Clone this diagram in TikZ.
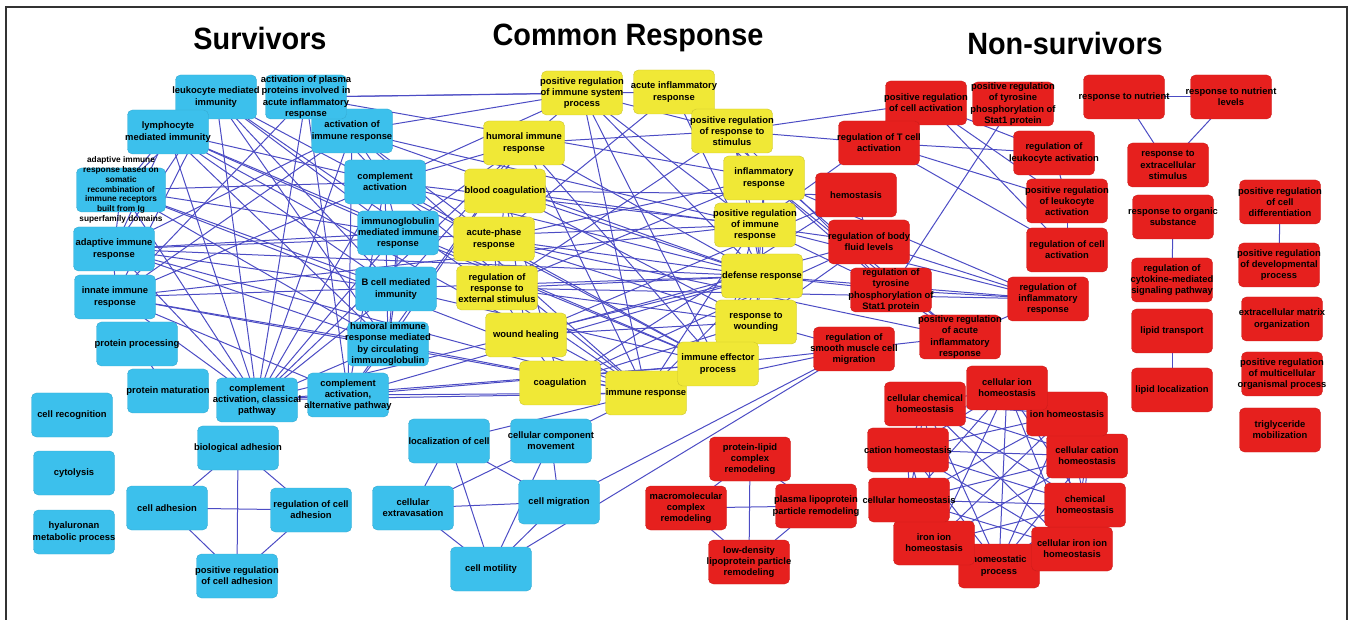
\documentclass[tikz,border=0pt]{standalone}
\usepackage{fontspec}
\setmainfont{Liberation Sans}
\usetikzlibrary{backgrounds}
\definecolor{bfill}{RGB}{60,192,236}
\definecolor{yfill}{RGB}{240,232,54}
\definecolor{rfill}{RGB}{230,32,30}
\definecolor{edgec}{RGB}{76,76,196}
\newcommand\mk[1]{\makebox[0pt][c]{#1}}
\tikzset{
  box/.style={rectangle, rounded corners=5pt, minimum width=81pt, minimum height=44pt,
    inner sep=0pt, align=center, font=\fontsize{9.4}{11.2}\selectfont\bfseries, text=black, line width=0.4pt},
  bnode/.style={box, fill=bfill, draw=bfill!88!black},
  ynode/.style={box, fill=yfill, draw=yfill!85!black},
  rnode/.style={box, fill=rfill, draw=rfill!88!black},
  edge/.style={draw=edgec, line width=1pt},
  ttl/.style={font=\fontsize{28}{30}\selectfont\bfseries, inner sep=0pt},
  frame/.style={draw=black!80, line width=1.5pt},
}
\begin{document}
\begin{tikzpicture}[x=1pt,y=-1pt]
\useasboundingbox (0,0) rectangle (1353,620);
\draw[frame] (6,620) -- (6,7) -- (1347,7) -- (1347,620);

% titles
\node[ttl] (tS) at (260,38) {\scalebox{1.03}[1.1]{Survivors}};
\node[ttl] (tC) at (628,38) {\scalebox{1.03}[1.1]{Common Response}};
\node[ttl] (tN) at (1065,43) {\scalebox{1.03}[1.1]{Non-survivors}};

% ---------------- Survivors (blue)
\node[bnode] (leuk) at (216,97) {\mk{leukocyte mediated}\\\mk{immunity}};
\node[bnode] (actimm) at (352,131) {\mk{activation of}\\\mk{immune response}};
\node[bnode] (plasma) at (306,97) {\mk{activation of plasma}\\\mk{proteins involved in}\\\mk{acute inflammatory}\\\mk{response}};
\node[bnode] (lymph) at (168,132) {\mk{lymphocyte}\\\mk{mediated immunity}};
\node[bnode, minimum width=89pt, label={[name=adapsomT, align=center, font=\fontsize{8.3}{9.8}\selectfont\bfseries, inner sep=0pt]center:{\mk{adaptive immune}\\\mk{response based on}\\\mk{somatic}\\\mk{recombination of}\\\mk{immune receptors}\\\mk{built from Ig}\\\mk{superfamily domains}}}] (adapsom) at (121,190) {};
\node[bnode] (compact) at (385,182) {\mk{complement}\\\mk{activation}};
\node[bnode] (igmed) at (398,233) {\mk{immunoglobulin}\\\mk{mediated immune}\\\mk{response}};
\node[bnode] (adap) at (114,249) {\mk{adaptive immune}\\\mk{response}};
\node[bnode] (innate) at (115,297) {\mk{innate immune}\\\mk{response}};
\node[bnode] (bcell) at (396,289) {\mk{B cell mediated}\\\mk{immunity}};
\node[bnode] (prot) at (137,344) {\mk{protein processing}};
\node[bnode] (humcirc) at (388,344) {\mk{humoral immune}\\\mk{response mediated}\\\mk{by circulating}\\\mk{immunoglobulin}};
\node[bnode] (protmat) at (168,391) {\mk{protein maturation}};
\node[bnode] (compclass) at (257,400) {\mk{complement}\\\mk{activation, classical}\\\mk{pathway}};
\node[bnode] (compalt) at (348,395) {\mk{complement}\\\mk{activation,}\\\mk{alternative pathway}};
\node[bnode] (cellrec) at (72,415) {\mk{cell recognition}};
\node[bnode] (cytol) at (74,473) {\mk{cytolysis}};
\node[bnode] (hyal) at (74,532) {\mk{hyaluronan}\\\mk{metabolic process}};
\node[bnode] (bioadh) at (238,448) {\mk{biological adhesion}};
\node[bnode] (celladh) at (167,508) {\mk{cell adhesion}};
\node[bnode] (regadh) at (311,510) {\mk{regulation of cell}\\\mk{adhesion}};
\node[bnode] (posadh) at (237,576) {\mk{positive regulation}\\\mk{of cell adhesion}};
\node[bnode] (loc) at (449,441) {\mk{localization of cell}};
\node[bnode] (ccm) at (551,441) {\mk{cellular component}\\\mk{movement}};
\node[bnode] (ext) at (413,508) {\mk{cellular}\\\mk{extravasation}};
\node[bnode] (mig) at (559,502) {\mk{cell migration}};
\node[bnode] (mot) at (491,569) {\mk{cell motility}};

% ---------------- Common (yellow)
\node[ynode] (y1) at (582,93) {\mk{positive regulation}\\\mk{of immune system}\\\mk{process}};
\node[ynode] (y2) at (674,92) {\mk{acute inflammatory}\\\mk{response}};
\node[ynode] (y3) at (524,143) {\mk{humoral immune}\\\mk{response}};
\node[ynode] (y4) at (732,131) {\mk{positive regulation}\\\mk{of response to}\\\mk{stimulus}};
\node[ynode] (y5) at (505,191) {\mk{blood coagulation}};
\node[ynode] (y6) at (764,178) {\mk{inflammatory}\\\mk{response}};
\node[ynode] (y7) at (494,239) {\mk{acute-phase}\\\mk{response}};
\node[ynode] (y8) at (755,225) {\mk{positive regulation}\\\mk{of immune}\\\mk{response}};
\node[ynode] (y9) at (497,288) {\mk{regulation of}\\\mk{response to}\\\mk{external stimulus}};
\node[ynode] (y10) at (762,276) {\mk{defense response}};
\node[ynode] (y11) at (526,335) {\mk{wound healing}};
\node[ynode] (y12) at (756,322) {\mk{response to}\\\mk{wounding}};
\node[ynode] (y13) at (560,383) {\mk{coagulation}};
\node[ynode] (y15) at (646,393) {\mk{immune response}};
\node[ynode] (y14) at (718,364) {\mk{immune effector}\\\mk{process}};

% ---------------- Non-survivors (red)
\node[rnode] (r1) at (926,103) {\mk{positive regulation}\\\mk{of cell activation}};
\node[rnode] (r2) at (1013,104) {\mk{positive regulation}\\\mk{of tyrosine}\\\mk{phosphorylation of}\\\mk{Stat1 protein}};
\node[rnode] (r3) at (879,143) {\mk{regulation of T cell}\\\mk{activation}};
\node[rnode] (r4) at (1054,153) {\mk{regulation of}\\\mk{leukocyte activation}};
\node[rnode] (r5) at (856,195) {\mk{hemostasis}};
\node[rnode] (r6) at (1067,201) {\mk{positive regulation}\\\mk{of leukocyte}\\\mk{activation}};
\node[rnode] (r7) at (869,242) {\mk{regulation of body}\\\mk{fluid levels}};
\node[rnode] (r8) at (1067,250) {\mk{regulation of cell}\\\mk{activation}};
\node[rnode] (r9) at (891,290) {\mk{regulation of}\\\mk{tyrosine}\\\mk{phosphorylation of}\\\mk{Stat1 protein}};
\node[rnode] (r10) at (1048,299) {\mk{regulation of}\\\mk{inflammatory}\\\mk{response}};
\node[rnode] (r11) at (960,337) {\mk{positive regulation}\\\mk{of acute}\\\mk{inflammatory}\\\mk{response}};
\node[rnode] (r12) at (854,349) {\mk{regulation of}\\\mk{smooth muscle cell}\\\mk{migration}};
\node[rnode] (r22) at (999,566) {\mk{homeostatic}\\\mk{process}};
\node[rnode] (r21) at (1072,549) {\mk{cellular iron ion}\\\mk{homeostasis}};
\node[rnode] (r20) at (934,543) {\mk{iron ion}\\\mk{homeostasis}};
\node[rnode] (r19) at (1085,505) {\mk{chemical}\\\mk{homeostasis}};
\node[rnode] (r18) at (909,500) {\mk{cellular homeostasis}};
\node[rnode] (r16) at (908,450) {\mk{cation homeostasis}};
\node[rnode] (r17) at (1087,456) {\mk{cellular cation}\\\mk{homeostasis}};
\node[rnode] (r15) at (1067,414) {\mk{ion homeostasis}};
\node[rnode] (r14) at (925,404) {\mk{cellular chemical}\\\mk{homeostasis}};
\node[rnode] (r13) at (1007,388) {\mk{cellular ion}\\\mk{homeostasis}};
\node[rnode] (r23) at (1124,97) {\mk{response to nutrient}};
\node[rnode] (r24) at (1231,97) {\mk{response to nutrient}\\\mk{levels}};
\node[rnode] (r25) at (1168,165) {\mk{response to}\\\mk{extracellular}\\\mk{stimulus}};
\node[rnode] (r26) at (1173,217) {\mk{response to organic}\\\mk{substance}};
\node[rnode] (r27) at (1280,202) {\mk{positive regulation}\\\mk{of cell}\\\mk{differentiation}};
\node[rnode] (r28) at (1172,280) {\mk{regulation of}\\\mk{cytokine-mediated}\\\mk{signaling pathway}};
\node[rnode] (r29) at (1279,265) {\mk{positive regulation}\\\mk{of developmental}\\\mk{process}};
\node[rnode] (r30) at (1172,331) {\mk{lipid transport}};
\node[rnode] (r31) at (1282,319) {\mk{extracellular matrix}\\\mk{organization}};
\node[rnode] (r32) at (1172,390) {\mk{lipid localization}};
\node[rnode] (r33) at (1282,374) {\mk{positive regulation}\\\mk{of multicellular}\\\mk{organismal process}};
\node[rnode] (r34) at (1280,430) {\mk{triglyceride}\\\mk{mobilization}};
\node[rnode] (r35) at (750,459) {\mk{protein-lipid}\\\mk{complex}\\\mk{remodeling}};
\node[rnode] (r36) at (686,508) {\mk{macromolecular}\\\mk{complex}\\\mk{remodeling}};
\node[rnode] (r37) at (816,506) {\mk{plasma lipoprotein}\\\mk{particle remodeling}};
\node[rnode] (r38) at (749,562) {\mk{low-density}\\\mk{lipoprotein particle}\\\mk{remodeling}};

\begin{pgfonlayer}{background}
\foreach \a/\b in {
  leuk/lymph, leuk/adapsom, leuk/adap, leuk/igmed, leuk/bcell, leuk/humcirc, leuk/compclass, leuk/innate,
  lymph/adapsom, lymph/adap, lymph/igmed, lymph/bcell, lymph/humcirc, lymph/compclass, lymph/compact,
  plasma/actimm, plasma/compact, plasma/compclass, plasma/compalt, plasma/innate,
  actimm/compact, actimm/compclass, actimm/compalt, actimm/innate, actimm/adap,
  compact/compclass, compact/compalt, compact/innate, compact/igmed, compact/humcirc, compact/adapsom,
  igmed/bcell, igmed/humcirc, igmed/adap, igmed/compclass, igmed/adapsom,
  adapsom/adap, adapsom/bcell, adapsom/humcirc, adapsom/compclass,
  adap/innate, adap/bcell, adap/humcirc, adap/compclass,
  innate/compclass, innate/compalt, innate/humcirc,
  bcell/humcirc, bcell/compclass, humcirc/compclass, humcirc/compalt,
  prot/protmat, compclass/compalt,
  innate/y15, adap/y15, leuk/y14, lymph/y14, humcirc/y3, bcell/y3, igmed/y3, compact/y3, compclass/y3, compalt/y3,
  actimm/y1, actimm/y8, plasma/y1, plasma/y2, plasma/y7, plasma/y6,
  compact/y1, compact/y8, compact/y14, compact/y10, compact/y15,
  igmed/y14, compclass/y14, compalt/y14, bcell/y14,
  innate/y10, adap/y10, compclass/y10, compalt/y10,
  humcirc/y15, actimm/y15, compclass/y15, compalt/y15,
  leuk/y15, lymph/y15, adapsom/y15, actimm/y10, innate/y8, adap/y8,
  y1/y3, y1/y8, y1/y15, y1/y14, y1/y4, y1/y10,
  y2/y6, y2/y7, y2/y10, y2/y4,
  y3/y15, y3/y14, y3/y10, y3/y4,
  y4/y8, y4/y9, y4/y10, y4/y6,
  y5/y13, y5/y11, y5/y12, y5/y10, y5/y9,
  y6/y10, y6/y12, y6/y9, y6/y7,
  y7/y10, y7/y9, y7/y12,
  y8/y15, y8/y14, y8/y10,
  y9/y10, y9/y12, y9/y11,
  y10/y15, y10/y12, y10/y14,
  y11/y12, y11/y13, y12/y13, y14/y15,
  y5/r5, y5/r7, y13/r5, y13/r7, y11/r5, y11/r7, y12/r7,
  y6/r10, y6/r11, y2/r11, y7/r11, y10/r10, y9/r10, y4/r1, y4/r3, y8/r9, y8/r1,
  y4/r9, y8/r10, y12/r12, y15/r12, y14/r12, y10/r9, y6/r9,
  r1/r4, r1/r6, r1/r8, r3/r4, r3/r6, r3/r8, r4/r6, r6/r8, r2/r9, r5/r7, r7/r10,
  r9/r10, r9/r11, r10/r11, r12/r11,
  r13/r14, r13/r15, r13/r16, r13/r17, r13/r18, r13/r19, r13/r20, r13/r21, r13/r22,
  r14/r15, r14/r16, r14/r17, r14/r18, r14/r19, r14/r20, r14/r21, r14/r22,
  r15/r16, r15/r17, r15/r18, r15/r19, r15/r20, r15/r21, r15/r22,
  r16/r17, r16/r18, r16/r19, r16/r20, r16/r21, r16/r22,
  r17/r18, r17/r19, r17/r20, r17/r21, r17/r22,
  r18/r19, r18/r20, r18/r21, r18/r22,
  r19/r20, r19/r21, r19/r22, r20/r21, r20/r22, r21/r22,
  r23/r24, r23/r25, r24/r25, r26/r28, r30/r32, r27/r29,
  r35/r36, r35/r37, r35/r38, r36/r37, r36/r38, r37/r38,
  bioadh/celladh, bioadh/regadh, bioadh/posadh, celladh/regadh, celladh/posadh, regadh/posadh,
  loc/ext, loc/mig, loc/mot, ccm/ext, ccm/mig, ccm/mot, ext/mig, ext/mot, mig/mot,
  loc/y15, ccm/y15, mig/r12, mot/r12}
  \draw[edge] (\a.center) -- (\b.center);
\end{pgfonlayer}
\end{tikzpicture}
\end{document}
